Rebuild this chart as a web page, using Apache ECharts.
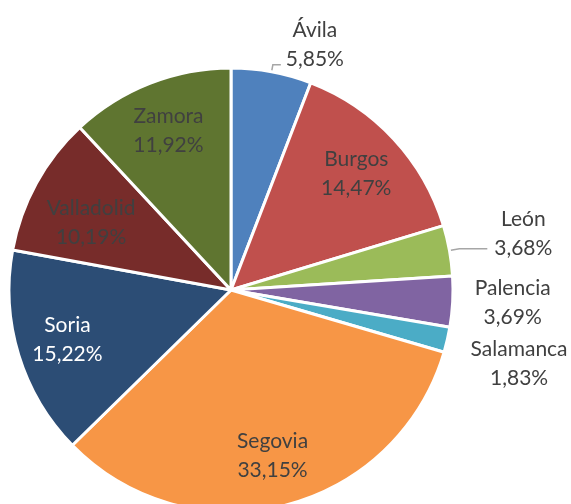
<!DOCTYPE html>
<html>
<head>
<meta charset="utf-8">
<script src="https://cdn.jsdelivr.net/npm/echarts@6/dist/echarts.min.js"></script>
<style>
  html, body { margin: 0; padding: 0; background: #fff; }
  #chart { width: 571px; height: 504px; }
</style>
</head>
<body>
<div id="chart"></div>
<script>
// reparto por provincia (%)
const provincias = ['Ávila', 'Burgos', 'León', 'Palencia', 'Salamanca', 'Segovia', 'Soria', 'Valladolid', 'Zamora'];
const porcentajes = [5.85, 14.47, 3.68, 3.69, 1.83, 33.15, 15.22, 10.19, 11.92];
const colores = ['#4F81BD', '#C0504D', '#9BBB59', '#8064A2', '#4BACC6', '#F79646', '#2C4D75', '#772C2A', '#5F7530'];

const FONT = 'Lato, "Open Sans", sans-serif';
const GRIS = '#404040';
const fmtPct = v => v.toFixed(2).replace('.', ',') + '%';

// etiquetas fuera del sector (len/len2: línea guía, dy: ajuste vertical, w: ancho para centrar)
const fuera = {
  'Ávila':     { len: 7,  len2: 8,  line: true,  dy: -20, w: 58 },
  'León':      { len: 10, len2: 28, line: true,  dy: -15, w: 62 },
  'Palencia':  { len: 10, len2: 5,  line: false, dy: 0,   w: 80 },
  'Salamanca': { len: 10, len2: 5,  line: false, dy: 22,  w: 104 }
};

const chart = echarts.init(document.getElementById('chart'));

const mainData = provincias.map((n, i) => {
  const o = fuera[n];
  const item = { name: n, value: porcentajes[i], itemStyle: { color: colores[i] } };
  if (o) {
    item.label = {
      show: true,
      position: 'outside',
      formatter: p => `{n|${p.name}}\n{n|${fmtPct(p.value)}}`,
      rich: { n: { width: o.w, align: 'center', color: GRIS, fontFamily: FONT, fontSize: 21, lineHeight: 29 } }
    };
    item.labelLine = { show: true, length: o.len, length2: o.len2, lineStyle: { opacity: o.line ? 1 : 0 } };
  } else {
    item.label = { show: false };
    item.labelLine = { show: false };
  }
  return item;
});

// serie fantasma solo para colocar las etiquetas interiores
const ghostData = provincias.map((n, i) => ({
  name: n,
  value: porcentajes[i],
  label: {
    show: !fuera[n],
    color: n === 'Soria' ? '#FFFFFF' : GRIS
  }
}));

const option = {
  animation: false,
  backgroundColor: '#fff',
  series: [{
    type: 'pie',
    center: [231, 290],
    radius: [0, 222],
    startAngle: 90,
    clockwise: true,
    avoidLabelOverlap: false,
    silent: true,
    itemStyle: { borderColor: '#fff', borderWidth: 3 },
    label: {
      fontFamily: FONT, fontSize: 21, lineHeight: 29, color: GRIS,
      overflow: 'none', bleedMargin: 0, distanceToLabelLine: 5
    },
    labelLine: { lineStyle: { color: '#A6A6A6', width: 1.5 }, smooth: false },
    labelLayout: p => {
      const o = fuera[provincias[p.dataIndex]];
      return { hideOverlap: false, dy: o ? o.dy : 0, labelLinePoints: p.labelLinePoints };
    },
    data: mainData
  }, {
    type: 'pie',
    center: [231, 290],
    radius: [114, 222],
    startAngle: 90,
    clockwise: true,
    avoidLabelOverlap: false,
    silent: true,
    itemStyle: { color: 'rgba(0,0,0,0)', borderWidth: 0 },
    label: {
      position: 'inside',
      fontFamily: FONT, fontSize: 21, lineHeight: 29,
      formatter: p => p.name + '\n' + fmtPct(p.value)
    },
    labelLine: { show: false },
    // Valladolid algo más hacia dentro, como en el original
    labelLayout: p => (p.dataIndex === 7 ? { dx: 10, dy: 15, hideOverlap: false } : { hideOverlap: false }),
    data: ghostData
  }]
};

chart.setOption(option);
</script>
</body>
</html>
